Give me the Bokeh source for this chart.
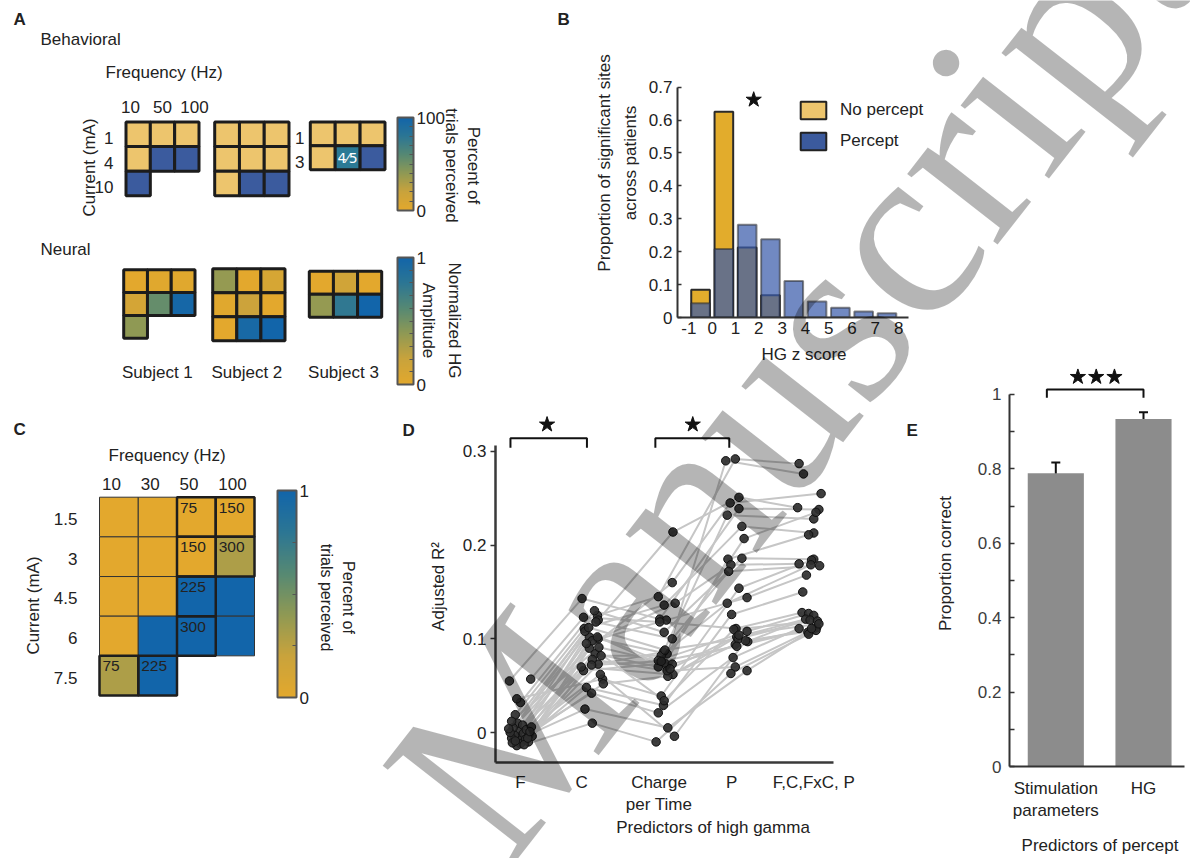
import math
from bokeh.plotting import figure
from bokeh.models import (Range1d, ColumnDataSource, LinearColorMapper, ColorBar, FixedTicker,
                          Legend, LegendItem, Whisker, TeeHead, Spacer)
from bokeh.layouts import row, column
from bokeh.embed import file_html
from bokeh.resources import INLINE
from bokeh.core.properties import value
from bokeh.transform import transform

FONT = "Liberation Sans"
INK = "#222222"

# ---------------------------------------------------------------- data
# Panel A - behavioral: percent of trials perceived (rows = current, cols = frequency)
freq_a = ["10", "50", "100"]
current_s1 = ["1", "4", "10"]
current_s3 = ["1", "3"]
behav_s1 = [[0, 0, 0], [0, 100, 100], [100, None, None]]
behav_s2 = [[0, 0, 0], [0, 0, 0], [0, 100, 100]]
behav_s3 = [[0, 0, 0], [0, 80, 100]]
behav_s3_note = "4\u20445"
# Panel A - neural: normalized HG amplitude
neural_s1 = [[0.00, 0.02, 0.02], [0.12, 0.55, 0.97], [0.40, None, None]]
neural_s2 = [[0.38, 0.00, 0.10], [0.02, 0.18, 0.00], [0.00, 0.95, 1.00]]
neural_s3 = [[0.00, 0.15, 0.00], [0.38, 0.78, 1.00]]
subject_names = ["Subject 1", "Subject 2", "Subject 3"]

# Panel B - histogram of HG z score
hg_bin_centers = [-0.5, 0.5, 1.5, 2.5, 3.5, 4.5, 5.5, 6.5, 7.5]
no_percept = [0.084, 0.625, 0.213, 0.068, 0.0, 0.0, 0.0, 0.0, 0.0]
percept = [0.043, 0.208, 0.282, 0.238, 0.111, 0.049, 0.030, 0.018, 0.013]

# Panel C - percent perceived and charge per time
freq_c = ["10", "30", "50", "100"]
current_c = ["1.5", "3", "4.5", "6", "7.5"]
perceived_c = [[0, 0, 0, 0], [0, 0, 0, 0.3], [0, 0, 1, 1], [0, 1, 1, 1], [0.3, 1, None, None]]
charge_c = [[None, None, "75", "150"], [None, None, "150", "300"], [None, None, "225", None],
            [None, None, "300", None], ["75", "225", None, None]]

# Panel D - adjusted R^2 per site for each predictor set
predictors = ["F", "C", "Charge\nper Time", "P", "F,C,FxC, P"]
predictor_label_pos = [1, 1.834, 2.89, 3.88, 5]
r2_F = [0.002, -0.005, 0.010, -0.008, 0.055, -0.012, 0.019, -0.003, 0.032, -0.010, 0.005, -0.001,
        0.036, -0.006, 0.008, -0.014, 0.057, 0.000, -0.007, 0.012, -0.002, -0.011, 0.003, -0.009,
        -0.013, 0.004, -0.004, 0.006, -0.006, 0.001]
x_F = [0.99, 0.97, 0.96, 1.01, 0.85, 1.00, 0.93, 0.92, 1.00, 1.11, 0.90, 1.04, 0.95, 0.88, 1.03,
       0.95, 1.14, 0.86, 1.07, 0.88, 1.12, 0.89, 1.08, 0.93, 1.05, 0.84, 1.16, 1.15, 1.10, 1.13]
r2_C = [0.125, 0.102, 0.120, 0.090, 0.143, 0.073, 0.111, 0.084, 0.130, 0.066, 0.100, 0.118,
        0.057, 0.098, 0.082, 0.048, 0.123, 0.108, 0.070, 0.091, 0.052, 0.042, 0.078, 0.025,
        0.010, 0.112, 0.095, 0.062, 0.102, 0.072]
x_C = [2.05, 1.94, 2.06, 1.94, 1.84, 2.06, 1.87, 2.02, 2.01, 1.86, 2.06, 2.03, 2.12, 1.98, 2.10,
       1.90, 1.86, 1.88, 1.83, 2.07, 2.13, 1.97, 1.98, 1.88, 1.98, 1.93, 1.90, 2.09, 2.05, 1.97]
r2_CpT = [0.145, 0.084, 0.214, 0.160, 0.121, 0.086, 0.136, 0.070, 0.107, 0.074, 0.138, 0.100,
          0.039, 0.120, 0.082, 0.029, 0.118, 0.077, 0.062, 0.073, 0.060, 0.021, 0.066, 0.005,
          -0.010, 0.088, 0.034, -0.004, 0.068, 0.076]
x_CpT = [2.88, 3.00, 3.08, 3.07, 2.90, 2.95, 2.96, 2.88, 2.96, 2.97, 3.11, 3.07, 2.92, 2.99, 2.92,
         2.95, 2.90, 2.88, 3.08, 3.07, 3.01, 2.88, 3.00, 3.01, 2.85, 2.97, 2.96, 3.10, 3.04, 2.92]
r2_P = [0.292, 0.290, 0.251, 0.245, 0.239, 0.232, 0.220, 0.207, 0.186, 0.185, 0.179, 0.172,
        0.154, 0.144, 0.138, 0.126, 0.111, 0.108, 0.102, 0.097, 0.094, 0.080, 0.070, 0.066,
        0.063, 0.100, 0.110, 0.098, 0.104, 0.092]
x_P = [3.93, 3.80, 3.98, 3.86, 3.98, 3.82, 4.02, 4.05, 4.02, 3.83, 3.87, 3.84, 3.98, 4.09, 3.82,
       3.88, 3.94, 4.09, 3.95, 4.10, 3.93, 3.90, 3.93, 4.09, 3.87, 3.97, 3.91, 4.07, 3.98, 3.95]
r2_all = [0.287, 0.276, 0.240, 0.255, 0.238, 0.228, 0.213, 0.235, 0.185, 0.211, 0.180, 0.178,
          0.184, 0.168, 0.179, 0.150, 0.128, 0.127, 0.121, 0.125, 0.112, 0.111, 0.110, 0.107,
          0.105, 0.120, 0.119, 0.109, 0.116, 0.111]
x_all = [4.80, 4.86, 4.78, 5.10, 5.07, 5.00, 5.00, 5.03, 5.00, 4.93, 4.80, 5.08, 4.97, 4.90, 4.96,
         4.85, 4.84, 4.93, 4.89, 5.00, 5.04, 4.80, 4.99, 4.92, 4.93, 4.95, 5.05, 5.03, 5.07, 4.97]

# Panel E - decoding accuracy
percept_predictors = ["Stimulation\nparameters", "HG"]
prop_correct = [0.788, 0.934]
prop_lo = [0.763, 0.917]
prop_hi = [0.817, 0.952]

# ---------------------------------------------------------------- styles
_anchors = [(0.0, (227, 168, 45)), (0.2, (201, 163, 60)), (0.4, (143, 153, 84)),
            (0.6, (86, 137, 115)), (0.8, (44, 118, 148)), (1.0, (18, 101, 170))]


def _cmap(t):
    for (t0, c0), (t1, c1) in zip(_anchors[:-1], _anchors[1:]):
        if t <= t1:
            f = (t - t0) / (t1 - t0)
            return "#%02x%02x%02x" % tuple(int(round(a + (b - a) * f)) for a, b in zip(c0, c1))
    return "#%02x%02x%02x" % _anchors[-1][1]


PAL = [_cmap(i / 255) for i in range(256)]
BEH_COLORS = {0: "#EDC56D", 80: "#2B7A95", 100: "#3B5B9E"}


def no_align(p):
    try:
        p.frame_align = False
    except Exception:
        pass
    return p


def canvas(w, h, x0, y0):
    p = figure(width=w, height=h, x_range=Range1d(x0, x0 + w), y_range=Range1d(y0 + h, y0),
               x_axis_type=None, y_axis_type=None, toolbar_location=None,
               output_backend="svg", min_border=0, outline_line_color=None)
    return no_align(p)


def label(p, x, y, s, size=17, align="left", baseline="middle", angle=0.0, color=INK,
          style="normal", font=FONT, line_height=1.2, alpha=1.0):
    p.text(x=[x], y=[y], text=[s], text_font=value(font), text_font_size=f"{size}px",
           text_align=align, text_baseline=baseline, angle=angle, text_color=color,
           text_font_style=style, text_line_height=line_height, text_alpha=alpha)


def grid_cells(vals, box, lw):
    x0, x1, y0, y1 = box
    nr, nc = len(vals), len(vals[0])
    cw = (x1 - x0 - lw) / nc
    ch = (y1 - y0 - lw) / nr
    out = dict(x=[], y=[], v=[], r=[], c=[])
    for r, rv in enumerate(vals):
        for c, v in enumerate(rv):
            if v is None:
                continue
            out["x"].append(x0 + lw / 2 + (c + 0.5) * cw)
            out["y"].append(y0 + lw / 2 + (r + 0.5) * ch)
            out["v"].append(v)
            out["r"].append(r)
            out["c"].append(c)
    return out, cw, ch


def colorbar(p, low, high, ticks, minor, loc, w, h):
    cb = ColorBar(color_mapper=LinearColorMapper(palette=PAL, low=low, high=high),
                  orientation="vertical", width=w, height=h, location=loc, padding=0, margin=0,
                  ticker=FixedTicker(ticks=ticks, minor_ticks=minor),
                  major_label_text_font=FONT, major_label_text_font_size="17px",
                  major_label_text_color=INK, label_standoff=3,
                  major_tick_line_color=None, major_tick_in=0, major_tick_out=0,
                  minor_tick_in=4, minor_tick_out=0, minor_tick_line_color="#555555",
                  bar_line_color="#555555", bar_line_width=2,
                  background_fill_alpha=0, border_line_color=None,
                  major_label_overrides={ticks[0]: "0", ticks[1]: str(ticks[1])})
    p.add_layout(cb)


def style_axes(p, color=INK):
    for ax in p.axis:
        ax.major_label_text_font = FONT
        ax.major_label_text_font_size = "17px"
        ax.major_label_text_color = color
        ax.axis_label_text_font = FONT
        ax.axis_label_text_font_size = "17px"
        ax.axis_label_text_font_style = "normal"
        ax.axis_label_text_color = INK
        ax.axis_line_color = "#333333"
        ax.axis_line_width = 2
        ax.major_tick_line_color = "#333333"
        ax.major_tick_line_width = 1.5
        ax.minor_tick_line_color = None
    p.grid.visible = False


# ---------------------------------------------------------------- panel A
pA = canvas(567, 402, 8, 8)
label(pA, 13, 19, "A", style="bold")
label(pA, 557, 19, "B", style="bold")
label(pA, 40, 39, "Behavioral")
label(pA, 105, 72, "Frequency (Hz)")

beh_boxes = [(124, 200, 120, 196.7), (212.7, 290, 120, 196.7), (308.3, 386, 120, 170.7)]
beh_geo = []
for vals, box in zip([behav_s1, behav_s2, behav_s3], beh_boxes):
    cells, cw, ch = grid_cells(vals, box, 3)
    cells["color"] = [BEH_COLORS[v] for v in cells["v"]]
    pA.rect("x", "y", width=cw, height=ch, source=ColumnDataSource(cells),
            fill_color="color", line_color="#1c1c1c", line_width=3)
    beh_geo.append((box, cw, ch, cells))

box1, cw1, ch1, _ = beh_geo[0]
gcx = (box1[0] + box1[1]) / 2
for c, f in enumerate(freq_a):
    label(pA, gcx + (c - 1) * 32, 106, f, align="center")
for r, cur in enumerate(current_s1):
    label(pA, 113, box1[2] + 1.5 + (r + 0.5) * ch1 + 4, cur, align="right")
label(pA, 89, 167, "Current (mA)", align="center", angle=math.pi / 2)
box3, cw3, ch3, cells3 = beh_geo[2]
for r, cur in enumerate(current_s3):
    label(pA, 304, box3[2] + 1.5 + (r + 0.5) * ch3 + 4, cur, align="right")
for x, y, v in zip(cells3["x"], cells3["y"], cells3["v"]):
    if v not in (0, 100):
        label(pA, x, y, behav_s3_note, size=14, align="center", color="white", font="DejaVu Sans")

colorbar(pA, 0, 100, [0, 100], list(range(10, 100, 10)), (389, 200), 16, 93)
label(pA, 462, 165, "Percent of\ntrials perceived", align="center", angle=-math.pi / 2)

label(pA, 40, 249, "Neural")
neu_boxes = [(121.7, 196, 267.7, 339.3), (210.7, 286, 266.7, 341.7), (307.3, 382.7, 269.3, 318.3)]
hg_mapper = LinearColorMapper(palette=PAL, low=0, high=1)
for vals, box, name in zip([neural_s1, neural_s2, neural_s3], neu_boxes, subject_names):
    cells, cw, ch = grid_cells(vals, box, 3)
    pA.rect("x", "y", width=cw, height=ch, source=ColumnDataSource(cells),
            fill_color=transform("v", hg_mapper), line_color="#1c1c1c", line_width=3)
    label(pA, (box[0] + box[1]) / 2 - 2, 372, name, align="center")

colorbar(pA, 0, 1, [0, 1], [0.1 * i for i in range(1, 10)], (389, 26), 16, 127)
label(pA, 441, 320, "Normalized HG\nAmplitude", align="center", angle=-math.pi / 2,
      line_height=1.35)

# ---------------------------------------------------------------- panel B
pB = no_align(figure(width=355, height=402, x_range=Range1d(-1.49, 9.368),
                     y_range=Range1d(0, 0.9392), toolbar_location=None, output_backend="svg",
                     outline_line_color=None, min_border_left=102, min_border_right=0,
                     min_border_top=0, min_border_bottom=93))
np_src = ColumnDataSource(dict(x=[b for b, v in zip(hg_bin_centers, no_percept) if v > 0],
                               top=[v for v in no_percept if v > 0]))
p_src = ColumnDataSource(dict(x=hg_bin_centers, top=percept))
pB.vbar(x="x", top="top", width=0.8, source=np_src, fill_color="#E2AC2C",
        line_color="#2a2a2a", line_width=2)
pB.vbar(x="x", top="top", width=0.8, source=p_src, fill_color="#3A5BAA", fill_alpha=0.72,
        line_color="#2a2a2a", line_alpha=0.55, line_width=2)
pB.scatter(x=[1.78], y=[0.662], marker="star", size=16, color="#111111")
# legend swatches (kept outside the visible range; only their legend glyphs show)
leg_np = pB.quad(left=[100], right=[101], top=[0.1], bottom=[0], fill_color="#EDC56D",
                 line_color="#222222", line_width=2)
leg_p = pB.quad(left=[100], right=[101], top=[0.1], bottom=[0], fill_color="#3B5A9D",
                line_color="#222222", line_width=2)
legB = Legend(items=[LegendItem(label="No percept", renderers=[leg_np]),
                     LegendItem(label="Percept", renderers=[leg_p])],
              location=(120, 165), orientation="vertical", padding=0, margin=0, spacing=9,
              glyph_width=32, glyph_height=22, label_height=22, label_standoff=11,
              label_text_font=FONT, label_text_font_size="17px", label_text_color=INK,
              border_line_color=None, background_fill_alpha=0)
pB.add_layout(legB)
style_axes(pB)
pB.xaxis.bounds = (-1.49, 8.42)
pB.yaxis.bounds = (0, 0.7)
pB.xaxis.ticker = FixedTicker(ticks=list(range(-1, 9)))
pB.xaxis.major_label_overrides = {-1: "-1"}
pB.yaxis.ticker = FixedTicker(ticks=[0, 0.1, 0.2, 0.3, 0.4, 0.5, 0.6, 0.7])
pB.yaxis.major_label_overrides = {0: "0"}
pB.xaxis.major_tick_line_color = None
pB.xaxis.major_tick_in = 0
pB.xaxis.major_tick_out = 0
pB.xaxis.major_label_standoff = 4
pB.yaxis.major_tick_in = 4
pB.yaxis.major_tick_out = 0
pB.yaxis.major_label_standoff = 5
pB.xaxis.axis_label = "HG z score"
pB.xaxis.axis_label_standoff = 8
pB.yaxis.axis_label = "Proportion of significant sites\nacross patients"
pB.yaxis.axis_label_standoff = 6
pB.yaxis.axis_label_text_line_height = 1.35

# ---------------------------------------------------------------- panel C
pC = canvas(417, 448, 8, 410)
label(pC, 13, 429, "C", style="bold")
label(pC, 402, 430, "D", style="bold")
label(pC, 108, 455, "Frequency (Hz)")
boxC = (99, 254, 496.7, 695)
cellsC, cwC, chC = grid_cells(perceived_c, boxC, 0)
pC.rect("x", "y", width=cwC, height=chC, source=ColumnDataSource(cellsC),
        fill_color=transform("v", hg_mapper), line_color="#333333", line_width=1)
hl = dict(x=[], y=[], t=[], tx=[], ty=[])
for x, y, r, c in zip(cellsC["x"], cellsC["y"], cellsC["r"], cellsC["c"]):
    if charge_c[r][c] is not None:
        hl["x"].append(x)
        hl["y"].append(y)
        hl["t"].append(charge_c[r][c])
        hl["tx"].append(x - cwC / 2 + 3)
        hl["ty"].append(y - chC / 2 + 5.5)
hl_src = ColumnDataSource(hl)
pC.rect("x", "y", width=cwC, height=chC, source=hl_src, fill_color=None,
        line_color="#1e1e1e", line_width=2.5)
pC.text("tx", "ty", text="t", source=hl_src, text_font=value(FONT), text_font_size="15.5px",
        text_align="left", text_baseline="top", text_color=INK)
for c, f in enumerate(freq_c):
    label(pC, boxC[0] + c * cwC + 2.5, 483, f)
for r, cur in enumerate(current_c):
    label(pC, 77, boxC[2] + (r + 0.5) * chC + 2, cur, align="right")
label(pC, 33, 605, "Current (mA)", align="center", angle=math.pi / 2)
colorbar(pC, 0, 1, [0, 1], [0.25, 0.5, 0.75], (269, 161), 19, 207)
label(pC, 337, 597, "Percent of\ntrials perceived", size=16, align="center",
      angle=-math.pi / 2, line_height=1.25)

# ---------------------------------------------------------------- panel D
pD = no_align(figure(width=505, height=448, x_range=Range1d(0.66, 6.592),
                     y_range=Range1d(-0.032, 0.3437), toolbar_location=None,
                     output_backend="svg", outline_line_color=None, min_border_left=69,
                     min_border_right=0, min_border_top=0, min_border_bottom=96))
cols_y = [r2_F, r2_C, r2_CpT, r2_P, r2_all]
cols_x = [x_F, x_C, x_CpT, x_P, x_all]
site_xs = [[cx[i] for cx in cols_x] for i in range(len(r2_F))]
site_ys = [[cy[i] for cy in cols_y] for i in range(len(r2_F))]
pD.multi_line(xs=site_xs, ys=site_ys, line_color="#C6C6C6", line_width=2)
pts = ColumnDataSource(dict(x=sum(cols_x, []), y=sum(cols_y, [])))
pD.scatter("x", "y", source=pts, size=8.5, fill_color="#2e2e2e", fill_alpha=0.92,
           line_color="#111111", line_width=1)
for xl, xr, xs in [(0.864, 1.907, 1.363), (2.84, 3.848, 3.35)]:
    pD.line(x=[xl, xl, xr, xr], y=[0.304, 0.314, 0.314, 0.304], line_color="#111111",
            line_width=2)
    pD.scatter(x=[xs], y=[0.3287], marker="star", size=16, color="#111111")
pD.text(x=[0.66 + (906 - 494) / 73.5], y=[-0.032 + (762 - 430) / 937], text=["E"],
        text_font=value(FONT), text_font_size="17px", text_font_style="bold",
        text_baseline="middle", text_color=INK)
style_axes(pD)
pD.xaxis.bounds = (0.66, 5.27)
pD.yaxis.bounds = (-0.032, 0.306)
pD.xaxis.ticker = FixedTicker(ticks=predictor_label_pos)
pD.xaxis.major_label_overrides = {t: s for t, s in zip(predictor_label_pos, predictors)}
pD.yaxis.ticker = FixedTicker(ticks=[0, 0.1, 0.2, 0.3])
pD.yaxis.major_label_overrides = {0: "0"}
pD.xaxis.major_tick_line_color = None
pD.xaxis.major_tick_in = 0
pD.xaxis.major_tick_out = 0
pD.xaxis.major_label_standoff = 10
pD.yaxis.major_tick_in = 0
pD.yaxis.major_tick_out = 5
pD.yaxis.major_label_standoff = 4
pD.xaxis.axis_label = "Predictors of high gamma"
pD.xaxis.axis_label_standoff = 1
pD.yaxis.axis_label = "Adjusted R\u00b2"
pD.yaxis.axis_label_standoff = 12
for ax in pD.axis:
    ax.axis_line_width = 2.5
    ax.axis_line_color = "#3a3a3a"

# ---------------------------------------------------------------- panel E
pE = no_align(figure(width=260, height=850, x_range=Range1d(0.472, 2.536),
                     y_range=Range1d(0, 1.0912), toolbar_location=None, output_backend="svg",
                     outline_line_color=None, min_border_left=79, min_border_right=0,
                     min_border_top=352, min_border_bottom=91))
srcE = ColumnDataSource(dict(x=[1, 2], top=prop_correct, lo=prop_lo, hi=prop_hi))
pE.vbar(x="x", top="top", width=0.64, source=srcE, fill_color="#8C8C8C", line_color=None)
pE.add_layout(Whisker(source=srcE, base="x", upper="hi", lower="lo", line_color="#111111",
                      line_width=2,
                      upper_head=TeeHead(size=9, line_width=2, line_color="#111111"),
                      lower_head=TeeHead(size=9, line_width=2, line_color="#111111")))
pE.line(x=[0.898, 0.898, 2.0, 2.0], y=[0.991, 1.013, 1.013, 0.991], line_color="#111111",
        line_width=2)
pE.scatter(x=[1.252, 1.461, 1.669], y=[1.047, 1.047, 1.047], marker="star", size=16,
           color="#111111")
style_axes(pE, color="#3c3c3c")
pE.xaxis.bounds = (0.472, 2.464)
pE.yaxis.bounds = (0, 1)
pE.xaxis.ticker = FixedTicker(ticks=[1, 2])
pE.xaxis.major_label_overrides = {i + 1: s for i, s in enumerate(percept_predictors)}
pE.xaxis.major_label_text_color = INK
pE.yaxis.ticker = FixedTicker(ticks=[0, 0.2, 0.4, 0.6, 0.8, 1],
                              minor_ticks=[0.1, 0.3, 0.5, 0.7, 0.9])
pE.yaxis.major_label_overrides = {0: "0", 1: "1"}
pE.xaxis.major_tick_line_color = None
pE.xaxis.major_tick_in = 0
pE.xaxis.major_tick_out = 0
pE.xaxis.major_label_standoff = 12
pE.yaxis.major_tick_in = 5
pE.yaxis.major_tick_out = 0
pE.yaxis.minor_tick_in = 5
pE.yaxis.minor_tick_out = 0
pE.yaxis.minor_tick_line_color = "#333333"
pE.yaxis.minor_tick_line_width = 1.5
pE.yaxis.major_label_standoff = 8
pE.xaxis.axis_label = "Predictors of percept"
pE.xaxis.axis_label_standoff = 13
pE.yaxis.axis_label = "Proportion correct"
pE.yaxis.axis_label_standoff = 20

# ---------------------------------------------------------------- watermark overlay
pW = figure(width=1198, height=858, x_range=Range1d(0, 1198), y_range=Range1d(858, 0),
            x_axis_type=None, y_axis_type=None, toolbar_location=None, output_backend="svg",
            min_border=0, outline_line_color=None, background_fill_alpha=0, border_fill_alpha=0,
            styles={"position": "absolute", "left": "0px", "top": "0px",
                    "pointer-events": "none"})
pW.text(x=[796], y=[371], text=["Manuscript"], angle=math.radians(52),
        text_font=value("Liberation Serif"), text_font_size="250px",
        text_align="center", text_baseline="middle", text_color="black", text_alpha=0.29)

main = row(column(row(pA, pB), row(pC, pD)), pE)
root = column(Spacer(height=8), row(Spacer(width=8), main), pW,
              styles={"position": "relative"})

open("out.html", "w").write(file_html(root, INLINE))
